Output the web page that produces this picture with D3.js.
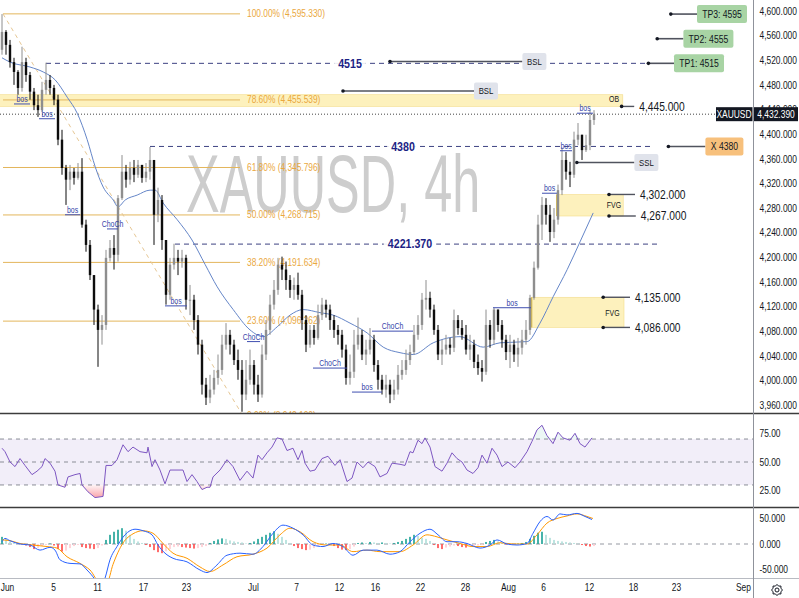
<!DOCTYPE html>
<html>
<head>
<meta charset="utf-8">
<script src="https://cdn.jsdelivr.net/npm/d3@7/dist/d3.min.js"></script>
<style>
html,body{margin:0;padding:0;background:#fff;overflow:hidden;}
svg{display:block;}
text{font-family:"Liberation Sans",Arial,sans-serif;}
</style>
</head>
<body>
<svg id="chart" width="799" height="598"></svg>
<script>
// ---------------- DATA ----------------
const firstOpen = 4537;
const closes = [
4566,4545,4517,4501,4475,4517,4496,4469,4447,4439,
4472,4488,4475,4456,4391,4345,4326,4339,4329,4339,
4253,4220,4171,4115,4082,4090,4199,4215,4204,4296,
4339,4326,4345,4334,4350,4329,4339,4358,4269,4293,
4228,4139,4188,4199,4193,4199,4131,4131,4098,4058,
3993,3972,3985,4004,4017,4058,4074,4058,4033,4017,
3977,4001,4025,3993,3977,4042,4082,4123,4147,4188,
4180,4163,4147,4155,4139,4098,4058,4082,4069,4106,
4123,4115,4098,4082,4074,4050,4004,4014,4058,4074,
4042,4050,4066,4025,4001,3985,3993,3977,3985,4009,
4017,4033,4046,4074,4090,4131,4134,4115,4082,4042,
4050,4058,4053,4098,4085,4074,4050,4058,4030,4020,
4014,4090,4066,4115,4090,4066,4046,4058,4042,4053,
4066,4082,4134,4183,4253,4285,4269,4241,4261,4309,
4358,4339,4334,4391,4399,4374,4382,4423,4432.39];
const highs = [
4595,4569,4553,4524,4504,4542,4524,4501,4475,4464,
4485,4516,4496,4480,4464,4407,4350,4350,4345,4353,
4361,4261,4228,4171,4123,4106,4212,4228,4236,4301,
4366,4350,4355,4358,4358,4345,4353,4379,4355,4313,
4301,4196,4199,4222,4212,4212,4204,4155,4139,4106,
4066,4004,4009,4017,4042,4074,4093,4082,4066,4050,
4033,4033,4050,4033,4009,4058,4098,4139,4163,4199,
4201,4193,4171,4167,4175,4147,4106,4090,4090,4123,
4134,4131,4123,4106,4090,4082,4058,4042,4082,4102,
4082,4066,4085,4074,4033,4009,4009,4001,4001,4025,
4033,4050,4058,4090,4106,4142,4163,4144,4123,4090,
4066,4074,4069,4115,4106,4098,4090,4074,4066,4042,
4033,4115,4098,4118,4111,4098,4074,4074,4066,4069,
4082,4098,4139,4193,4269,4298,4296,4285,4280,4318,
4378,4371,4355,4404,4418,4399,4399,4439,4439];
const lows = [
4529,4529,4508,4480,4464,4469,4485,4456,4439,4428,
4436,4464,4464,4447,4382,4334,4285,4309,4318,4326,
4248,4209,4163,4090,4022,4058,4082,4193,4180,4193,
4293,4313,4318,4322,4329,4321,4322,4326,4220,4257,
4212,4123,4131,4180,4171,4183,4115,4106,4082,4042,
3977,3960,3963,3977,3993,4009,4050,4042,4025,4001,
3949,3968,3993,3977,3965,3972,4033,4074,4115,4139,
4163,4147,4134,4131,4131,4082,4046,4053,4058,4066,
4098,4102,4082,4069,4058,4037,3993,3993,4004,4050,
4033,4025,4042,4014,3985,3977,3972,3963,3968,3977,
4001,4009,4025,4042,4066,4082,4115,4102,4074,4033,
4025,4042,4042,4046,4074,4066,4042,4033,4020,4009,
3998,4009,4053,4058,4079,4053,4033,4020,4030,4022,
4042,4058,4074,4131,4180,4228,4253,4225,4231,4253,
4301,4326,4314,4329,4382,4358,4371,4374,4415];

// moving average, bar index -> price
const emaAt  = [0,2,7,10.3,13.3,16.3,18.8,21.3,23.3,25.3,27.8,29,30.8,33.8,37,38.3,40.3,43.8,47.5,50.8,53.8,57.8,62,65.3,68.8,72,75.3,79.5,82.8,87,91.3,95.3,99.5,102.8,107.8,114.5,120.3,124.5,131.3,134.5,137.8,141.3,144.5,147.8];
const emaVal = [4524,4517,4509,4501,4488,4460,4434,4391,4347,4314,4293,4282,4293,4301,4309,4309,4288,4261,4228,4188,4152,4115,4082,4071,4087,4106,4115,4110,4106,4093,4077,4054,4045,4042,4061,4071,4054,4061,4063,4093,4136,4180,4225,4272];

// RSI
const rsiAt = [0,0.75,2,3.25,4.5,5.75,7.5,8.75,10,10.75,12,13.25,14,15.75,16.5,18.25,19.5,20,21.5,23.25,25.25,26,27.5,28.75,30.25,31.5,32.75,34.5,36.25,36.5,37.5,38.25,39.5,40.75,42,43.75,45.25,46.25,47.5,48.75,50,51.25,52,52.75,54.5,56.25,57.75,59.5,61.25,62.75,64,65,66.25,67.5,68.75,70,71.25,72.75,74,75,75.75,77,78.25,80,81.5,83.25,84.5,86.25,87.5,88.75,90.25,91.5,93.25,94.5,96.25,97.5,99.5,100.75,102,102.75,104,105,105.75,107,108.25,110,111.25,112.5,113.75,115,116.25,117.75,119,120,121.25,122.5,123.75,125,126.5,128.25,129.5,131.25,132.5,133.75,135,136.25,137.75,139,140.25,142,143.25,144.5,145.75,147.5];
const rsiVal = [62,59,50,46,53,47,39,42,46,53,49,42,30,28,37,39,40,30,24,19,20,47,47,52,65,59,63,59,58,63,46,52,43,31,43,43,43,33,39,33,26,28,28,37,43,52,46,34,42,36,56,52,58,63,71,70,60,62,52,60,49,42,43,53,55,47,52,33,36,50,45,50,46,37,40,49,48,47,59,58,69,66,71,63,46,42,49,58,53,50,43,40,45,56,49,62,56,46,50,45,50,59,68,78,82,73,66,76,71,69,75,66,63,71];

// MACD
const macdAt  = [0,0.75,2,4.5,7,9.5,12,13.25,14.5,17,19.5,21.25,23.25,24.5,25.75,27,28.75,30.75,33.25,35.25,37.5,39,40.75,42.75,46.25,49.5,51.25,53.75,56.25,59.5,62.75,65.25,67.75,70.25,72.75,75.25,77.75,80.25,82.75,85.25,87.75,90.25,93.75,97,99.5,102,104.5,107,109,111.25,113.75,116.25,119.5,122,123.75,126.25,128.75,131.25,132.75,134.5,136.25,137.75,139.5,141.25,143.75,145.75,147.5];
const macdVal = [4.5,11,6.5,0,-2,-12,-6.5,-12,-31,-38,-39,-51,-70,-88,-67,-31,-5,18,29,26,18,-2,-18,-28,-35,-51,-56,-41,-22,-18,-20,-5,21,37,31,18,-2,-5,1,-5,-22,-12,-12,-20,-15,4.5,21,29,18,4.5,4.5,1,-8,-2,8,0,-2,1,21,44,54,47,59,57,60,54,48];
const sigAt  = [0,2,4.5,7.75,11.25,13.75,16.25,19.5,22,24.5,26.25,27.75,30.25,32.75,35.25,37.75,40.25,42.75,46.25,49.5,52,55.25,58.75,62.75,66.25,69.5,72,74.5,77.75,81.25,84.5,87.75,91.25,94.5,99.5,102.75,106.25,108.75,111.25,114.5,117.75,121.25,124.5,127.75,131.25,133.75,136.25,138.75,141.25,143.75,146.25,147.75];
const sigVal = [8,6.5,1,-2,-5,-8,-25,-38,-51,-75,-75,-40,2,20,26,21,1,-18,-28,-45,-54,-41,-25,-20,-8,18,31,24,4.5,-2,-2,-15,-12,-15,-15,-2,18,14,8,1,-5,-5,2.5,0,0,18,41,50,55,59,54,50];
const hist = [
14,10,5,2,1,-1,-3,-6,-10,-8,
-4,-2,1,-3,-10,-15,-13,-8,-4,-2,
-6,-8,-9,-10,-8,-3,8,18,24,28,
31,26,18,10,5,2,-2,-6,-12,-16,
-18,-14,-10,-6,-5,-6,-7,-8,-9,-8,
-6,-4,2,6,9,11,10,7,5,4,
3,1,2,5,10,14,18,22,25,20,
14,8,2,-4,-8,-10,-12,-11,-8,-4,
-2,1,-1,-4,-8,-11,-12,-10,-5,2,
3,2,4,3,2,3,2,1,2,4,
6,10,14,18,16,12,10,6,-2,-8,
-10,-7,-5,-3,-4,-6,-7,-5,-4,-3,
-2,4,6,8,5,2,-1,-2,-1,1,
2,4,10,16,22,24,18,12,8,6,
5,4,3,2,1,-2,-4,-5,-4];

// Axis ticks
const priceTicks = [3960,4000,4040,4080,4120,4160,4200,4240,4280,4320,4360,4400,4440,4480,4520,4560,4600];
const dateAt  = [1.25,12.75,23.75,35.25,46,62.75,73.5,84.25,93.25,104.5,115.75,126.5,135.25,146.75,157.75,168.5,185.25];
const dateLab = ["Jun","5","11","17","23","Jul","7","12","16","22","28","Aug","6","12","18","23","Sep"];

// Fibonacci retracement
const fibPct = [100,78.6,61.8,50,38.2,23.6,0];
const fibVal = [4595.330,4455.539,4345.796,4268.715,4191.634,4096.262,3942.100];
const fibFrom = 0.25, fibTo = 59.5, fibLabelAt = 61.25, fibTrendEnd = 60.25;

// Zones [fromIdx, toIdx, low, high]
const zoneName = ["OB","FVG","FVG"];
const zoneFrom = [-1,138.7,132.4];
const zoneTo   = [155.2,155.3,155.5];
const zoneLow  = [4445,4267,4086];
const zoneHigh = [4464,4302,4135];
const zoneLabAt = [153,153,152.6];
const zoneLabP  = [4456,4285,4109];

// key horizontal levels
const lvlText = ["4515","4380","4221.370"];
const lvlPrice = [4515,4380,4221.37];
const lvlFrom = [11,37,43.25];
const lvlTo = [161.5,163,163.75];
const lvlTextAt = [87,100.25,102];

// structure markers
const mkText  = ["bos","bos","bos","ChoCh","bos","ChoCh","ChoCh","bos","ChoCh","bos","bos","bos","bos"];
const mkFrom  = [3,9.25,15.75,26.25,40.75,61.25,77.75,87.5,92.5,122.75,135,139.5,143.75];
const mkTo    = [7,13.25,19.5,29,46.25,64.5,86.25,95,102.75,132.25,138.75,142.5,147.75];
const mkPrice = [4449,4425,4269,4246,4121,4063,4020,3981,4080,4118,4304,4373,4434];

// callout boxes
const boxText  = ["TP3: 4595","TP2: 4555","TP1: 4515","X 4380","BSL","BSL","SSL"];
const boxPrice = [4595,4555,4515,4380,4518,4470,4354];
const boxDotAt = [167.2,163.8,161.6,166.6,97,85.25,143.7];
const boxAt    = [180,176.6,174.25,180.6,133.1,121,161.1];
const boxKind  = ["tp","tp","tp","x","liq","liq","liq"];

// price callouts
const valText  = ["4,445.000","4,302.000","4,267.000","4,135.000","4,086.000"];
const valPrice = [4445,4302,4267,4135,4086];
const valDotAt = [154.9,151.75,151.75,150.3,150.3];
const valTextAt= [159.3,159.5,159.7,158.25,158.25];

const lastPrice = 4432.39;
const symbol = "XAUUSD";

// ---------------- DRAW ----------------
const W = 799, H = 598, AX = 753;
const SX = 0.82;
const svg = d3.select("#chart");
const x = d3.scaleLinear().domain([0,148]).range([2,594]);
const y = d3.scaleLinear().domain([3960,4600]).range([405,11]);
const yR = d3.scaleLinear().domain([25,75]).range([490.7,433.3]);
const yM = d3.scaleLinear().domain([-50,50]).range([569.5,518.5]);

const defs = svg.append("defs");
function clip(id,y0,h){defs.append("clipPath").attr("id",id).append("rect").attr("x",0).attr("y",y0).attr("width",AX).attr("height",h);}
clip("cp",0,413); clip("cr",414,93); clip("cm",508,70);
const grad = defs.append("linearGradient").attr("id","pinkg").attr("x1",0).attr("y1",0).attr("x2",0).attr("y2",1);
grad.append("stop").attr("offset","0%").attr("stop-color","rgba(242,54,69,0.05)");
grad.append("stop").attr("offset","100%").attr("stop-color","rgba(242,54,69,0.45)");

function T(g,px,py,s,o={}){
  const t = g.append("text")
    .attr("transform",`translate(${px},${py}) scale(${o.sx||SX},1)`)
    .attr("font-size",o.size||10)
    .attr("fill",o.fill||"#131722")
    .attr("text-anchor",o.anchor||"start")
    .attr("dominant-baseline","central")
    .text(s);
  if(o.weight) t.attr("font-weight",o.weight);
  return t;
}

svg.append("rect").attr("width",W).attr("height",H).attr("fill","#fff");

// watermark
svg.append("text").attr("transform","translate(186,212) scale(0.97,1.55)")
  .attr("font-family","Roboto").attr("font-size",52).attr("fill","#cdcdcd")
  .text(symbol + ", 4h");

const P = svg.append("g").attr("clip-path","url(#cp)");

// zones
zoneName.forEach((n,k)=>{
  P.append("rect").attr("x",x(zoneFrom[k])).attr("width",x(zoneTo[k])-x(zoneFrom[k]))
    .attr("y",y(zoneHigh[k])).attr("height",y(zoneLow[k])-y(zoneHigh[k]))
    .attr("fill","#fdf1bd").attr("stroke","#f3dc8a").attr("stroke-width",0.6);
  if(n==="FVG"){
    P.append("line").attr("x1",x(zoneFrom[k])).attr("x2",x(zoneFrom[k]))
      .attr("y1",y(zoneHigh[k])).attr("y2",y(zoneLow[k])).attr("stroke","#d9bd55").attr("stroke-width",1.5);
  }
});

// fib
const fibCol = "#e3b65c";
fibVal.forEach((v,k)=>{
  P.append("line").attr("x1",x(fibFrom)).attr("x2",x(fibTo)).attr("y1",y(v)).attr("y2",y(v))
    .attr("stroke",fibCol).attr("stroke-width",1);
  T(P,x(fibLabelAt),y(v),fibPct[k].toFixed(2)+"% ("+d3.format(",.3f")(v)+")",{fill:"#eaa83e",size:10.2});
});
P.append("line").attr("x1",x(fibFrom)).attr("y1",y(fibVal[0])).attr("x2",x(fibTrendEnd)).attr("y2",y(fibVal[6]))
  .attr("stroke","#e6c794").attr("stroke-width",1).attr("stroke-dasharray","4,4");

// key levels (dashed)
lvlPrice.forEach((p,k)=>{
  P.append("line").attr("x1",x(lvlFrom[k])).attr("x2",x(lvlTo[k])).attr("y1",y(p)).attr("y2",y(p))
    .attr("stroke","#3d4282").attr("stroke-width",1).attr("stroke-dasharray","5,4");
});

// current price dotted
P.append("line").attr("x1",0).attr("x2",716).attr("y1",y(lastPrice)).attr("y2",y(lastPrice))
  .attr("stroke","#444").attr("stroke-width",1).attr("stroke-dasharray","1,2");

// callout connectors
boxText.forEach((s,k)=>{
  const w = boxKind[k]==="tp"?50:(boxKind[k]==="x"?38:24);
  P.append("line").attr("x1",x(boxDotAt[k])).attr("x2",x(boxAt[k])-w/2).attr("y1",y(boxPrice[k])).attr("y2",y(boxPrice[k]))
    .attr("stroke","#50535e").attr("stroke-width",1.6);
  P.append("circle").attr("cx",x(boxDotAt[k])).attr("cy",y(boxPrice[k])).attr("r",1.8).attr("fill","#131722");
});

// moving average
const emaLine = d3.line().x(d=>x(d[0])).y(d=>y(d[1])).curve(d3.curveMonotoneX);
P.append("path").attr("d",emaLine(d3.zip(emaAt,emaVal))).attr("fill","none").attr("stroke","#6586c8").attr("stroke-width",1);

// candles
const UP="#8e8e8e", DN="#0d0d0d";
const bars = closes.map((c,i)=>{
  const o = i===0?firstOpen:closes[i-1];
  return {i,o,c,h:Math.max(highs[i],o,c),l:Math.min(lows[i],o,c)};
});
const cg = P.append("g");
cg.selectAll("line").data(bars).join("line")
  .attr("x1",d=>x(d.i)).attr("x2",d=>x(d.i)).attr("y1",d=>y(d.h)).attr("y2",d=>y(d.l))
  .attr("stroke",d=>d.c>=d.o?UP:DN).attr("stroke-width",1);
cg.selectAll("rect").data(bars).join("rect")
  .attr("x",d=>x(d.i)-1.2).attr("width",2.4)
  .attr("y",d=>y(Math.max(d.o,d.c))).attr("height",d=>Math.max(1,Math.abs(y(d.o)-y(d.c))))
  .attr("fill",d=>d.c>=d.o?UP:DN);

// structure markers
mkText.forEach((s,k)=>{
  P.append("line").attr("x1",x(mkFrom[k])).attr("x2",x(mkTo[k])).attr("y1",y(mkPrice[k])).attr("y2",y(mkPrice[k]))
    .attr("stroke","#3f4fb0").attr("stroke-width",1);
  T(P,(x(mkFrom[k])+x(mkTo[k]))/2,y(mkPrice[k])-4.5,s,{anchor:"middle",size:8.5,fill:"#3444a8"});
});

// level labels
lvlText.forEach((s,k)=>{
  const t = T(P,x(lvlTextAt[k]),y(lvlPrice[k]),s,{anchor:"middle",size:13,weight:"bold",fill:"#1c2385"});
  const w = t.node().getComputedTextLength()*SX;
  P.insert("rect",()=>t.node()).attr("x",x(lvlTextAt[k])-w/2-4).attr("width",w+8)
    .attr("y",y(lvlPrice[k])-6).attr("height",12).attr("fill","#fff").attr("fill-opacity",0.9);
});

// callout boxes
boxText.forEach((s,k)=>{
  const kind = boxKind[k];
  const w = kind==="tp"?50:(kind==="x"?38:24);
  const h = kind==="liq"?17:18;
  const fill = kind==="tp"?"#a8d4a4":(kind==="x"?"#f7c07c":"#e0e3eb");
  P.append("rect").attr("x",x(boxAt[k])-w/2).attr("y",y(boxPrice[k])-h/2).attr("width",w).attr("height",h)
    .attr("rx",2).attr("fill",fill);
  T(P,x(boxAt[k]),y(boxPrice[k]),s,{anchor:"middle",size:kind==="liq"?9.5:10.5,fill:"#131722"});
});

// zone labels
zoneName.forEach((n,k)=>{
  T(P,x(zoneLabAt[k]),y(zoneLabP[k]),n,{anchor:"middle",size:8.5});
});

// value callouts
valText.forEach((s,k)=>{
  P.append("line").attr("x1",x(valDotAt[k])).attr("x2",x(valTextAt[k])-5).attr("y1",y(valPrice[k])).attr("y2",y(valPrice[k]))
    .attr("stroke","#50535e").attr("stroke-width",1.4);
  P.append("circle").attr("cx",x(valDotAt[k])).attr("cy",y(valPrice[k])).attr("r",1.8).attr("fill","#131722");
  T(P,x(valTextAt[k]),y(valPrice[k]),s,{size:12.5});
});

// ---------- RSI pane ----------
const R = svg.append("g").attr("clip-path","url(#cr)");
R.append("rect").attr("x",0).attr("width",AX).attr("y",yR(70)).attr("height",yR(30)-yR(70)).attr("fill","rgba(126,87,194,0.1)");
[70,50,30].forEach(v=>{
  R.append("line").attr("x1",0).attr("x2",AX).attr("y1",yR(v)).attr("y2",yR(v))
    .attr("stroke","#8a8d96").attr("stroke-width",1).attr("stroke-dasharray","4,4");
});
const rsiPts = d3.zip(rsiAt,rsiVal);
R.append("path").attr("d",d3.area().x(d=>x(d[0])).y0(yR(30)).y1(d=>yR(Math.min(d[1],30)))(rsiPts)).attr("fill","url(#pinkg)");
R.append("path").attr("d",d3.area().x(d=>x(d[0])).y0(yR(70)).y1(d=>yR(Math.max(d[1],70)))(rsiPts)).attr("fill","rgba(8,153,129,0.08)");
R.append("path").attr("d",d3.line().x(d=>x(d[0])).y(d=>yR(d[1]))(rsiPts)).attr("fill","none").attr("stroke","#7e57c2").attr("stroke-width",1);

// ---------- MACD pane ----------
const M = svg.append("g").attr("clip-path","url(#cm)");
M.append("line").attr("x1",0).attr("x2",AX).attr("y1",yM(0)).attr("y2",yM(0))
  .attr("stroke","#9598a1").attr("stroke-width",1).attr("stroke-dasharray","4,4");
M.selectAll("rect.h").data(hist).join("rect").attr("class","h")
  .attr("x",(d,i)=>x(i)-1).attr("width",2)
  .attr("y",d=>Math.min(yM(0),yM(d))).attr("height",d=>Math.abs(yM(d)-yM(0)))
  .attr("fill",(d,i)=>{
    const prev = i>0?hist[i-1]:d;
    if(d>=0) return d>=prev?"#26a69a":"#b2dfdb";
    return d<prev?"#ff5252":"#ffcdd2";
  }).attr("fill-opacity",0.85);
M.append("path").attr("d",d3.line().x(d=>x(d[0])).y(d=>yM(d[1])).curve(d3.curveMonotoneX)(d3.zip(sigAt,sigVal)))
  .attr("fill","none").attr("stroke","#ff9800").attr("stroke-width",1);
M.append("path").attr("d",d3.line().x(d=>x(d[0])).y(d=>yM(d[1])).curve(d3.curveMonotoneX)(d3.zip(macdAt,macdVal)))
  .attr("fill","none").attr("stroke","#2962ff").attr("stroke-width",1);

// ---------- separators ----------
svg.append("line").attr("x1",0).attr("x2",W).attr("y1",413.5).attr("y2",413.5).attr("stroke","#3c3c3c").attr("stroke-width",1.5);
svg.append("line").attr("x1",0).attr("x2",W).attr("y1",507.5).attr("y2",507.5).attr("stroke","#3c3c3c").attr("stroke-width",1.5);
svg.append("line").attr("x1",0).attr("x2",W).attr("y1",578.5).attr("y2",578.5).attr("stroke","#b8bbc2").attr("stroke-width",1);
svg.append("line").attr("x1",AX+0.5).attr("x2",AX+0.5).attr("y1",0).attr("y2",H).attr("stroke","#8f929b").attr("stroke-width",1);

// ---------- axes ----------
function styleAxis(g){
  g.select(".domain").remove();
  g.selectAll("text").attr("font-family","Liberation Sans, Arial, sans-serif").attr("font-size",10.3).attr("fill","#131722")
    .attr("transform",`scale(${SX},1)`);
}
const ayP = svg.append("g").attr("transform",`translate(${AX+4},0)`)
  .call(d3.axisRight(y).tickValues(priceTicks).tickSize(0).tickPadding(3).tickFormat(d3.format(",.3f")));
styleAxis(ayP);
const ayR = svg.append("g").attr("transform",`translate(${AX+4},0)`)
  .call(d3.axisRight(yR).tickValues([25,50,75]).tickSize(0).tickPadding(3).tickFormat(d=>d.toFixed(2)));
styleAxis(ayR);
const ayM = svg.append("g").attr("transform",`translate(${AX+4},0)`)
  .call(d3.axisRight(yM).tickValues([-50,0,50]).tickSize(0).tickPadding(3).tickFormat(d=>d.toFixed(3)));
styleAxis(ayM);
const axX = svg.append("g").attr("transform","translate(0,584)")
  .call(d3.axisBottom(x).tickValues(dateAt).tickSize(0).tickPadding(0).tickFormat((d,i)=>dateLab[i]));
styleAxis(axX);

// last price label
const ly = y(lastPrice);
svg.append("rect").attr("x",716).attr("y",ly-7).attr("width",36.5).attr("height",14).attr("fill","#131722");
svg.append("rect").attr("x",754).attr("y",ly-7).attr("width",44).attr("height",14).attr("fill","#131722");
T(svg,734,ly,symbol,{anchor:"middle",fill:"#fff",size:10.3});
T(svg,776,ly,d3.format(",.3f")(lastPrice),{anchor:"middle",fill:"#fff",size:10.3});

// gear icon
const gear = svg.append("g").attr("transform","translate(777,590)");
const gp = d3.range(16).map(k=>{const a=k*Math.PI/8; const r=k%2?4.2:5.6; return [r*Math.cos(a),r*Math.sin(a)];});
gear.append("path").attr("d",d3.line().curve(d3.curveLinearClosed)(gp)).attr("fill","none").attr("stroke","#131722").attr("stroke-width",1);
gear.append("circle").attr("r",2).attr("fill","none").attr("stroke","#131722").attr("stroke-width",1);
</script>
</body>
</html>
